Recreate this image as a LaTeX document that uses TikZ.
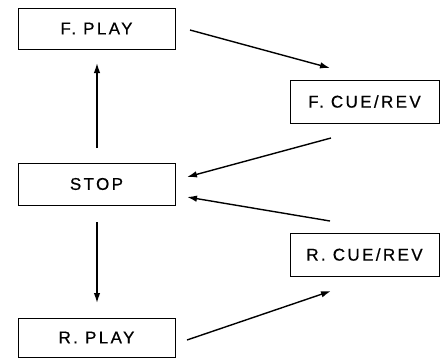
\documentclass[tikz,border=0pt]{standalone}
\usepackage{fontspec}
\setmainfont{Liberation Sans}[LetterSpace=14,FakeBold=0.6]
\usetikzlibrary{arrows.meta}
\begin{document}
\begin{tikzpicture}[x=1pt,y=-1pt,
  box/.style={draw,line width=1pt,inner sep=0pt,font=\fontsize{17}{19}\selectfont},
  conn/.style={line width=1.4pt,-{Latex[length=10pt,width=6.5pt]}}]
\useasboundingbox (0,0) rectangle (440,360);
\node[box,minimum width=157,minimum height=41] (fplay) at (96.5,28.5) {F. PLAY};
\node[box,minimum width=157,minimum height=42] (stop) at (96.5,184) {STOP};
\node[box,minimum width=157,minimum height=39] (rplay) at (96.5,337.5) {R. PLAY};
\node[box,minimum width=149,minimum height=43] (fcue) at (364.5,101.5) {F. CUE/REV};
\node[box,minimum width=149,minimum height=43] (rcue) at (364.5,254.5) {R. CUE/REV};
\coordinate (a1) at (97,148);
\coordinate (a2) at (97,63);
\draw[conn] (a1) -- (a2);
\coordinate (b1) at (97,222);
\coordinate (b2) at (97,303);
\draw[conn] (b1) -- (b2);
\coordinate (c1) at (190,30);
\coordinate (c2) at (330,68);
\draw[conn] (c1) -- (c2);
\coordinate (d1) at (331,138);
\coordinate (d2) at (187,177);
\draw[conn] (d1) -- (d2);
\coordinate (e1) at (330,221);
\coordinate (e2) at (187,197);
\draw[conn] (e1) -- (e2);
\coordinate (f1) at (187,340);
\coordinate (f2) at (331,291);
\draw[conn] (f1) -- (f2);
\end{tikzpicture}
\end{document}
